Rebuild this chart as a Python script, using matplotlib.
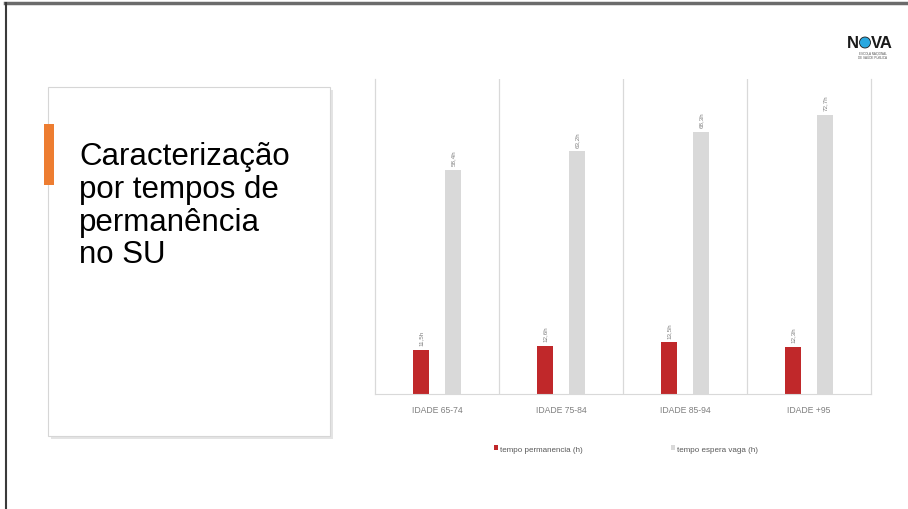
import matplotlib.pyplot as plt
from matplotlib.patches import Rectangle, Ellipse
from matplotlib.lines import Line2D
import numpy as np

categories = ["IDADE 65-74", "IDADE 75-84", "IDADE 85-94", "IDADE +95"]
permanencia = [11.5, 12.6, 13.5, 12.3]
espera = [58.4, 63.2, 68.3, 72.7]
perm_labels = ["11,5h", "12,6h", "13,5h", "12,3h"]
esp_labels = ["58,4h", "63,2h", "68,3h", "72,7h"]

plt.rcParams["font.family"] = ["Liberation Sans", "DejaVu Sans"]

W, H = 908, 510
fig = plt.figure(figsize=(W / 100, H / 100), dpi=100)
fig.patch.set_facecolor("white")


def fx(px):
    return px / W


def fy(py):
    return 1 - py / H


# slide frame
fig.add_artist(Line2D([fx(5), 1], [fy(4), fy(4)], color="#6b6b6b", lw=2.5))
fig.add_artist(Line2D([fx(6), fx(6)], [fy(4), 0], color="#3a3a3a", lw=1.5))

# title box with shadow
fig.add_artist(Rectangle((fx(51), fy(440)), fx(282), (437 - 88) / H,
                         facecolor="#e4e4e4", edgecolor="none", transform=fig.transFigure))
fig.add_artist(Rectangle((fx(48), fy(437)), fx(282), (437 - 88) / H,
                         facecolor="white", edgecolor="#d6d6d6", lw=0.8, transform=fig.transFigure))
fig.add_artist(Rectangle((fx(44), fy(186)), fx(10), 61 / H,
                         facecolor="#ed7d31", edgecolor="none", transform=fig.transFigure))
fig.text(fx(79), fy(142), "Caracterização\npor tempos de\npermanência\nno SU",
         fontsize=22.5, color="black", va="top", ha="left", linespacing=1.12)

# logo
fig.text(fx(847), fy(44), "N", fontsize=12, fontweight="bold", color="#1a1a1a",
         va="center", ha="left")
fig.add_artist(Ellipse((fx(865), fy(43.5)), 11 / W, 11 / H, facecolor="#29a8e0",
                       edgecolor="#1a1a1a", lw=0.6, transform=fig.transFigure))
fig.text(fx(871), fy(44), "VA", fontsize=12, fontweight="bold", color="#1a1a1a",
         va="center", ha="left")
fig.text(fx(873), fy(56), "ESCOLA NACIONAL\nDE SAÚDE PÚBLICA", fontsize=2.2, color="#555555",
         va="center", ha="center", linespacing=1.0)

# chart
ax = fig.add_axes([fx(375), fy(395), fx(871 - 375), (395 - 80) / H])
x = np.arange(len(categories))
off = 0.13
bw = 0.135
b1 = ax.bar(x - off, permanencia, bw, color="#c0282a", label="tempo permanencia (h)")
b2 = ax.bar(x + off, espera, bw, color="#d9d9d9", label="tempo espera vaga (h)")
for rect, lab in zip(b1, perm_labels):
    ax.text(rect.get_x() + rect.get_width() / 2, rect.get_height() + 1.2, lab,
            rotation=90, ha="center", va="bottom", fontsize=4.5, color="#7f7f7f")
for rect, lab in zip(b2, esp_labels):
    ax.text(rect.get_x() + rect.get_width() / 2, rect.get_height() + 1.2, lab,
            rotation=90, ha="center", va="bottom", fontsize=4.5, color="#7f7f7f")

ax.set_xlim(-0.5, len(categories) - 0.5)
ax.set_ylim(0, 82)
for sep in np.arange(0.5, len(categories) - 0.5, 1):
    ax.axvline(sep, color="#d9d9d9", lw=0.9)
for s in ["left", "right"]:
    ax.spines[s].set_color("#d9d9d9")
    ax.spines[s].set_linewidth(0.9)
ax.spines["top"].set_visible(False)
ax.spines["bottom"].set_color("#d9d9d9")
ax.set_yticks([])
ax.set_xticks(x)
ax.set_xticklabels(categories, fontsize=6.2, color="#7f7f7f")
ax.tick_params(axis="x", length=0, pad=8)

leg = fig.legend(handles=[b1, b2], loc="center left", bbox_to_anchor=(fx(490), fy(450)),
                 ncol=2, frameon=False, fontsize=5.8, handlelength=0.5, handleheight=0.5,
                 columnspacing=10.9, handletextpad=0.3, borderpad=0)
for t in leg.get_texts():
    t.set_color("#595959")

fig.savefig("out.png", dpi=100)
